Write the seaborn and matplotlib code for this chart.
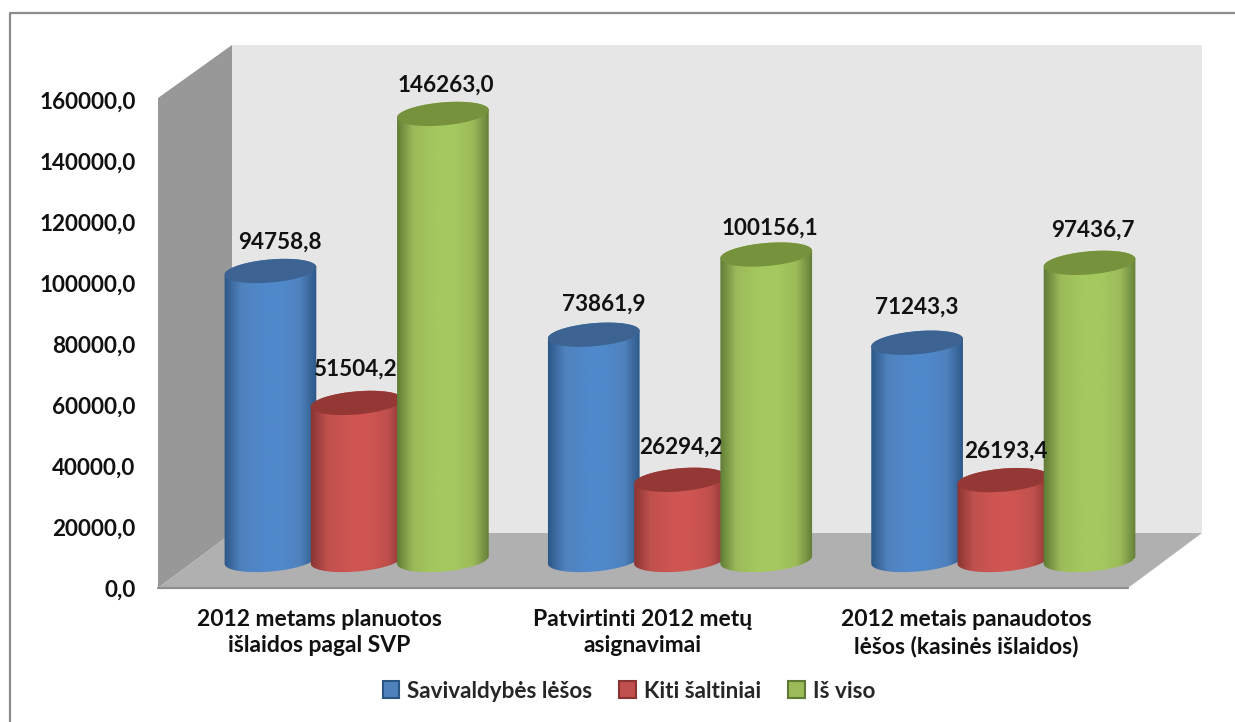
import numpy as np
import pandas as pd
import matplotlib
matplotlib.use("Agg")
import matplotlib.pyplot as plt
import seaborn as sns
from matplotlib.patches import Polygon
from matplotlib.lines import Line2D

WIDTH, HEIGHT = 1235, 722

categories = [
    "2012 metams planuotos\nišlaidos pagal SVP",
    "Patvirtinti 2012 metų\nasignavimai",
    "2012 metais panaudotos\nlėšos (kasinės išlaidos)",
]
savivaldybes = [94758.8, 73861.9, 71243.3]
kiti = [51504.2, 26294.2, 26193.4]
is_viso = [146263.0, 100156.1, 97436.7]
series_names = ["Savivaldybės lėšos", "Kiti šaltiniai", "Iš viso"]
y_ticks = [0, 20000, 40000, 60000, 80000, 100000, 120000, 140000, 160000]

base_colors = ["#4f81bd", "#c0504d", "#9bbb59"]
bright_colors = ["#5089cb", "#cf5552", "#a5c85f"]
dark_colors = ["#2b5585", "#883432", "#5f7a35"]
cap_colors = ["#3c6391", "#943836", "#76923c"]

# label shift from the middle of each bar top, in pixels
label_shift = [
    [(9, 29), (10, 31), (0, 36)],
    [(-2, 34), (1, 33), (3, 29)],
    [(3, 29), (4, 26), (3, 33)],
]


def box(x0, y0, x1, y1):
    # pixel box (y from the top) to figure fractions
    return [x0 / WIDTH, 1 - y1 / HEIGHT, (x1 - x0) / WIDTH, (y1 - y0) / HEIGHT]


def frac(points):
    return [(x / WIDTH, 1 - y / HEIGHT) for x, y in points]


def add_wall(fig, points, color):
    fig.add_artist(Polygon(frac(points), closed=True, facecolor=color, edgecolor="none",
                           transform=fig.transFigure, zorder=-1))


def gradient(dark, mid, bright):
    stops = [0.0, 0.18, 0.42, 0.62, 0.82, 1.0]
    cols = np.array([matplotlib.colors.to_rgb(c) for c in [dark, mid, bright, bright, mid, dark]])
    pos = np.linspace(0, 1, 64)
    return np.stack([np.interp(pos, stops, cols[:, i]) for i in range(3)], axis=1)[None, :, :]


def ellipse(cx, cy, a, b, t):
    tilt = np.radians(5)
    x = cx + a * np.cos(t) * np.cos(tilt) - b * np.sin(t) * np.sin(tilt)
    y = cy + a * np.cos(t) * np.sin(tilt) + b * np.sin(t) * np.cos(tilt)
    return np.column_stack([x, y])


def draw_cylinder(ax, bar, grad, cap_color, level):
    # turn a flat seaborn bar into a shaded cylinder, working in display pixels
    trans = ax.transData
    x0, y0 = trans.transform((bar.get_x(), 0))
    x1, y1 = trans.transform((bar.get_x() + bar.get_width(), bar.get_height()))
    cx = (x0 + x1) / 2
    a = (x1 - x0) / 2 * 92 / 86.2
    b = 11.5
    t_low = np.linspace(np.pi, 2 * np.pi, 60)
    t_top = np.linspace(0, np.pi, 60)
    outline = np.vstack([ellipse(cx, y0, a, b, t_low), ellipse(cx, y1, a, b, t_top)])
    body = Polygon(outline, closed=True, transform=None, facecolor="none", edgecolor="none")
    ax.add_patch(body)
    im = ax.imshow(grad, aspect="auto", interpolation="bilinear", zorder=level)
    # the image is stretched over the bar box plus the cylinder's lower curve
    inv = trans.inverted()
    left, low = inv.transform((cx - a - 1, y0 - b - 2))
    right, high = inv.transform((cx + a + 1, y1 + b + 2))
    im.set_extent([left, right, low, high])
    im.set_clip_box(ax.figure.bbox)
    im.set_clip_path(body)
    cap = Polygon(ellipse(cx, y1, a, b, np.linspace(0, 2 * np.pi, 120)), closed=True, transform=None,
                  facecolor=cap_color, edgecolor="none", zorder=level + 0.1)
    ax.add_patch(cap)


sns.set_theme(style="white")
plt.rcParams["font.family"] = ["Lato", "DejaVu Sans"]
plt.rcParams["font.weight"] = "bold"

df = pd.DataFrame({
    "kategorija": categories * 3,
    "lesos": savivaldybes + kiti + is_viso,
    "saltinis": np.repeat(series_names, 3),
})

fig = plt.figure(figsize=(WIDTH / 100, HEIGHT / 100), dpi=100, facecolor="white")

# outer chart border
fig.add_artist(Line2D([10 / WIDTH, 10 / WIDTH, 1], [0, 1 - 13 / HEIGHT, 1 - 13 / HEIGHT],
                      color="#8c8c8c", lw=1.6, transform=fig.transFigure, zorder=-2))

# 3D box: back wall, side wall and floor
add_wall(fig, [(232, 45), (1202, 45), (1202, 533), (232, 533)], "#e6e6e6")
add_wall(fig, [(158, 98), (232, 45), (232, 533), (158, 588)], "#989898")
add_wall(fig, [(158, 588), (232, 533), (1202, 533), (1128, 588)], "#b0b0b0")
fig.add_artist(Line2D([158 / WIDTH, 1128 / WIDTH], [1 - 588 / HEIGHT] * 2, color="#8e8e8e", lw=1.6,
                      transform=fig.transFigure, zorder=-1))

# front plane axes only carries the tick labels
front = fig.add_axes(box(158, 100, 1128, 588))
front.patch.set_alpha(0)
front.set_xlim(-0.5, 2.5)
front.set_ylim(0, 160000)
front.set_xticks(range(3), categories)
front.set_yticks(y_ticks, [f"{v:.1f}".replace(".", ",") for v in y_ticks])
front.tick_params(axis="both", length=0, labelsize=16.2, labelcolor="#111111")
front.tick_params(axis="y", pad=16)
front.tick_params(axis="x", pad=15, labelsize=16.5)
for label in front.get_xticklabels():
    label.set_linespacing(1.32)
sns.despine(ax=front, left=True, bottom=True)

# bars sit half way into the box
ax = fig.add_axes(box(195, 72, 1165, 560))
ax.patch.set_alpha(0)
sns.barplot(data=df, x="kategorija", y="lesos", hue="saltinis", hue_order=series_names,
            palette=base_colors, saturation=1, width=0.8, ax=ax)
ax.set_xlim(-0.5, 2.5)
ax.set_ylim(0, 160000)
fig.canvas.draw()

for i, container in enumerate(ax.containers):
    grad = gradient(dark_colors[i], base_colors[i], bright_colors[i])
    for j, bar in enumerate(container):
        level = 3 + i * 2
        draw_cylinder(ax, bar, grad, cap_colors[i], level)
        dx, dy = label_shift[i][j]
        value = [savivaldybes, kiti, is_viso][i][j]
        ax.annotate(f"{value:.1f}".replace(".", ","), (bar.get_x() + bar.get_width() / 2, bar.get_height()),
                    xytext=(dx, dy), textcoords="offset pixels", ha="center", va="center",
                    fontsize=16.2, color="#111111", zorder=20)

ax.set_xlim(-0.5, 2.5)
ax.set_ylim(0, 160000)
ax.set_xlabel("")
ax.set_ylabel("")
ax.tick_params(left=False, bottom=False, labelleft=False, labelbottom=False)
sns.despine(ax=ax, left=True, bottom=True)

sns.move_legend(ax, "center", bbox_to_anchor=(629 / WIDTH, 1 - 691 / HEIGHT), bbox_transform=fig.transFigure,
                ncol=3, frameon=False, title=None, fontsize=16.2, handlelength=0.75, handleheight=0.75,
                handletextpad=0.35, columnspacing=1.2)
for handle, col in zip(ax.get_legend().legend_handles, dark_colors):
    handle.set_edgecolor(col)
    handle.set_linewidth(1.5)

fig.savefig("out.png", dpi=100)
